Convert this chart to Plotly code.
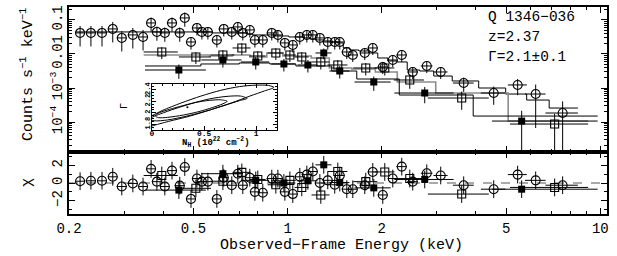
import numpy as np
import plotly.graph_objects as go

# ---------------- data: open circles (⊕) ----------------
circ_e = [0.217, 0.235, 0.255, 0.276, 0.295, 0.320, 0.345, 0.366, 0.382, 0.405,
          0.427, 0.452, 0.469, 0.491, 0.513, 0.532, 0.556, 0.594, 0.625, 0.663,
          0.693, 0.719, 0.757, 0.786, 0.833, 0.890, 0.931, 0.980, 1.039, 1.094,
          1.152, 1.204, 1.268, 1.344, 1.415, 1.468, 1.546, 1.616, 1.765, 1.872,
          2.015, 2.169, 2.317, 2.512, 2.786, 3.087, 3.656, 4.560, 5.439, 6.211, 7.574]
circ_cts = [0.0415, 0.0415, 0.0415, 0.0544, 0.0296, 0.0362, 0.0316, 0.0816, 0.0444, 0.0415,
            0.0816, 0.0415, 0.1145, 0.0225, 0.0582, 0.0444, 0.0444, 0.0258, 0.0544, 0.0444,
            0.0622, 0.0415, 0.0508, 0.0258, 0.0258, 0.0415, 0.0362, 0.0211, 0.0184, 0.0316,
            0.0362, 0.0362, 0.0296, 0.0225, 0.0225, 0.0225, 0.01145, 0.00935, 0.0107, 0.0150,
            0.00415, 0.00666, 0.00935, 0.00296, 0.00444, 0.00296, 0.00140, 0.000712, 0.00123, 0.000666, 0.000184]
circ_rel = [0.6, 0.6, 0.6, 0.6, 0.6, 0.6, 0.6, 0.45, 0.45, 0.45,
            0.45, 0.45, 0.45, 0.4, 0.4, 0.4, 0.4, 0.4, 0.4, 0.4,
            0.4, 0.4, 0.4, 0.4, 0.4, 0.4, 0.4, 0.4, 0.4, 0.4,
            0.4, 0.4, 0.4, 0.4, 0.4, 0.4, 0.38, 0.38, 0.38, 0.38,
            0.38, 0.38, 0.38, 0.38, 0.38, 0.38, 0.45, 0.55, 0.5, 0.9, 1.2]
circ_xerr = [0.008, 0.009, 0.009, 0.010, 0.011, 0.012, 0.013, 0.013, 0.014, 0.015,
             0.016, 0.017, 0.017, 0.018, 0.019, 0.020, 0.021, 0.022, 0.023, 0.025,
             0.026, 0.027, 0.028, 0.029, 0.031, 0.033, 0.035, 0.036, 0.038, 0.040,
             0.043, 0.045, 0.047, 0.050, 0.052, 0.054, 0.057, 0.060, 0.065, 0.070,
             0.075, 0.080, 0.090, 0.100, 0.120, 0.160, 0.280, 0.410, 0.380, 0.470, 0.900]
circ_model = [0.0444, 0.0444, 0.0444, 0.0444, 0.0444, 0.0444, 0.0444, 0.0444, 0.0444, 0.0444,
              0.0444, 0.0444, 0.0444, 0.0444, 0.0444, 0.0444, 0.0444, 0.0415, 0.0415, 0.0415,
              0.0415, 0.0415, 0.0388, 0.0362, 0.0362, 0.0362, 0.0338, 0.0338, 0.0316, 0.0316,
              0.0296, 0.0276, 0.0258, 0.0241, 0.0225, 0.0211, 0.0150, 0.0131, 0.01225, 0.0107,
              0.00763, 0.00622, 0.00582, 0.00338, 0.00316, 0.00225, 0.00161, 0.00100, 0.000666, 0.000443, 0.000258]
circ_chi = [0.2, 0.25, 0.25, 0.7, -0.4, -0.05, -0.4, 1.6, 0.15, -0.4,
            1.4, -0.3, 1.8, -1.8, 0.5, 0.15, 0.15, -1.8, 0.6, -0.25,
            1.05, -0.25, 0.6, -1.0, -1.1, 0.5, 0.5, -1.0, -1.25, 0.7,
            0.95, 1.3, 0.0, 0.3, -0.2, 0.85, -0.7, -0.7, -0.25, 1.25,
            -1.35, 0.5, 1.85, 0.15, 1.1, 0.85, -0.25, -0.7, 0.95, 0.3, -0.25]

# ---------------- data: open squares (⊞) ----------------
sq_e = [0.396, 0.509, 0.621, 0.714, 0.803, 0.917, 1.017, 1.110, 1.277, 1.447,
        1.778, 2.045, 2.458, 3.603, 7.141]
sq_cts = [0.01145, 0.00817, 0.00935, 0.0150, 0.00874, 0.0107, 0.00935, 0.00817, 0.00582, 0.00475,
          0.00388, 0.00388, 0.00172, 0.000508, 0.0000874]
sq_rel = [0.38, 0.38, 0.38, 0.38, 0.38, 0.38, 0.38, 0.38, 0.4, 0.4,
          0.4, 0.4, 0.45, 0.55, 1.0]
sq_xerr = [0.0495, 0.0599, 0.0548, 0.0473, 0.0473, 0.054, 0.0449, 0.0572, 0.0846, 0.106,
           0.157, 0.150, 0.271, 0.795, 2.0]
sq_model = [0.00935, 0.00935, 0.00874, 0.00935, 0.00817, 0.0107, 0.00874, 0.00874, 0.00763, 0.00388,
            0.00362, 0.00296, 0.0015, 0.000712, 0.000107]
sq_chi = [0.85, -0.6, 0.2, 1.2, 0.4, -0.2, 0.3, -0.5, -1.35, 1.3,
          0.15, 1.25, 0.5, -1.25, -0.5]

# ---------------- data: filled squares (■) ----------------
fs_e = [0.449, 0.621, 0.791, 0.973, 1.161, 1.305, 1.468, 1.886, 2.744, 5.602]
fs_cts = [0.00338, 0.00666, 0.00582, 0.00508, 0.00475, 0.0107, 0.00316, 0.0015, 0.000712, 0.000107]
fs_rel = [0.45, 0.4, 0.4, 0.4, 0.4, 0.35, 0.4, 0.45, 0.5, 1.0]
fs_xerr_lo = [0.099, 0.0914, 0.0815, 0.0859, 0.0854, 0.0768, 0.108, 0.25, 0.55, 1.1]
fs_xerr_hi = [0.099, 0.0914, 0.0815, 0.0859, 0.0854, 0.0768, 0.108, 0.25, 0.65, 4.2]
fs_model = [0.00444, 0.00508, 0.00544, 0.00508, 0.00444, 0.00444, 0.00316, 0.00184, 0.000622, 0.00015]
fs_chi = [-0.8, 1.05, 0.3, 0.0, 0.25, 2.05, 0.05, -0.55, 0.4, -0.7]

# ---------------- inset: confidence contours (NH, Gamma) ----------------
c1_nh = [0.721, 0.66, 0.55, 0.42, 0.29, 0.17, 0.07, 0.03, 0.06, 0.15, 0.30, 0.45, 0.58, 0.68, 0.721]
c1_g = [2.20, 2.225, 2.215, 2.18, 2.12, 2.06, 2.0, 1.95, 1.915, 1.92, 1.96, 2.02, 2.09, 2.155, 2.20]
c2_nh = [0.913, 0.85, 0.72, 0.55, 0.38, 0.22, 0.08, 0.01, -0.02, 0.02, 0.15, 0.33, 0.52, 0.70, 0.84, 0.913]
c2_g = [2.25, 2.29, 2.285, 2.24, 2.16, 2.07, 1.98, 1.93, 1.89, 1.86, 1.875, 1.94, 2.03, 2.13, 2.21, 2.25]
c3_nh = [1.17, 1.12, 1.0, 0.84, 0.66, 0.47, 0.28, 0.10, 0.0, -0.07, -0.07, 0.0, 0.16, 0.36, 0.56, 0.76, 0.94, 1.08, 1.17]
c3_g = [2.44, 2.475, 2.48, 2.455, 2.39, 2.29, 2.17, 2.04, 1.95, 1.89, 1.73, 1.77, 1.85, 1.94, 2.05, 2.17, 2.29, 2.38, 2.44]
best_nh = [0.34]
best_g = [2.095]

x_ticks = [0.2, 0.5, 1, 2, 5, 10]
x_ticktext = ['0.2', '0.5', '1', '2', '5', '10']
x_minor = [0.3, 0.4, 0.6, 0.7, 0.8, 0.9, 3, 4, 6, 7, 8, 9]
y_ticks = [1e-4, 1e-3, 1e-2, 1e-1]
y_ticktext = ['10<sup>−4</sup>', '10<sup>−3</sup>', '0.01', '0.1']

FONT = 'Liberation Mono'
BLK = 'black'

# pixel geometry of the plotting area
W, H = 617, 256
L, R, T, B = 69, 10, 7, 42
PW, PH = W - L - R, H - T - B


def px_x(p):
    return (p - L) / PW


def px_y(p):
    return (H - B - p) / PH


def steps(e, model, lo, hi):
    e = np.asarray(e, float)
    edges = [e[0] - lo[0]] + list(np.sqrt(e[:-1] * e[1:])) + [e[-1] + hi[-1]]
    xs, ys = [], []
    for i, m in enumerate(model):
        xs += [edges[i], edges[i + 1]]
        ys += [m, m]
    return xs, ys


def yerrs(v, rel):
    v = np.asarray(v, float)
    r = np.asarray(rel, float)
    return r * v, np.minimum(r, 0.97) * v


fig = go.Figure()

for e, m, lo, hi, col, w in [(circ_e, circ_model, circ_xerr, circ_xerr, BLK, 1),
                             (sq_e, sq_model, sq_xerr, sq_xerr, '#8c8c8c', 1.6),
                             (fs_e, fs_model, fs_xerr_lo, fs_xerr_hi, BLK, 1)]:
    xs, ys = steps(e, m, lo, hi)
    fig.add_trace(go.Scatter(x=xs, y=ys, mode='lines', line=dict(color=col, width=w),
                             xaxis='x', yaxis='y', hoverinfo='skip'))

series = [
    (circ_e, circ_cts, circ_rel, circ_xerr, circ_xerr, circ_chi,
     dict(symbol='circle-open', size=9, color=BLK, line=dict(width=1.1, color=BLK))),
    (sq_e, sq_cts, sq_rel, sq_xerr, sq_xerr, sq_chi,
     dict(symbol='square-open', size=8, color=BLK, line=dict(width=1.1, color=BLK))),
    (fs_e, fs_cts, fs_rel, fs_xerr_lo, fs_xerr_hi, fs_chi,
     dict(symbol='square', size=7, color=BLK, line=dict(width=0, color=BLK))),
]
for e, v, rel, xlo, xhi, chi, mk in series:
    up, dn = yerrs(v, rel)
    ex = dict(type='data', array=xhi, arrayminus=xlo, symmetric=False, color=BLK, thickness=1, width=0)
    fig.add_trace(go.Scatter(
        x=e, y=v, mode='markers', marker=mk, xaxis='x', yaxis='y', error_x=ex,
        error_y=dict(type='data', array=up, arrayminus=dn, symmetric=False, color=BLK, thickness=1, width=0)))
    fig.add_trace(go.Scatter(
        x=e, y=chi, mode='markers', marker=mk, xaxis='x2', yaxis='y2', error_x=ex,
        error_y=dict(type='data', array=[1.0] * len(chi), color=BLK, thickness=1, width=0)))

for nh, g in [(c1_nh, c1_g), (c2_nh, c2_g), (c3_nh, c3_g)]:
    fig.add_trace(go.Scatter(x=nh, y=g, mode='lines', line=dict(color=BLK, width=1, shape='spline', smoothing=0.8),
                             xaxis='x3', yaxis='y3', hoverinfo='skip'))
fig.add_trace(go.Scatter(x=best_nh, y=best_g, mode='markers', marker=dict(color=BLK, size=2),
                         xaxis='x3', yaxis='y3'))

axis_common = dict(showline=True, linewidth=1.5, linecolor=BLK, mirror='ticks', ticks='inside',
                   tickwidth=1, tickcolor=BLK, showgrid=False, zeroline=False, automargin=False)
inset_common = dict(showline=True, linewidth=1.2, linecolor=BLK, mirror='ticks', ticks='inside',
                    tickwidth=1, tickcolor=BLK, showgrid=False, zeroline=False, automargin=False)
DOM = 62 / PH

fig.update_layout(
    template='none',
    width=W, height=H, margin=dict(l=L, r=R, t=T, b=B, pad=0),
    paper_bgcolor='white', plot_bgcolor='white', showlegend=False,
    font=dict(family=FONT, size=14, color=BLK),
    xaxis=dict(type='log', range=[np.log10(0.2), np.log10(10.5)], domain=[0, 1], anchor='y',
               tickvals=x_ticks, showticklabels=False, ticklen=6,
               minor=dict(ticks='inside', ticklen=3, tickvals=x_minor, tickcolor=BLK), **axis_common),
    xaxis2=dict(type='log', range=[np.log10(0.2), np.log10(10.5)], domain=[0, 1], anchor='y2', matches='x',
                tickvals=x_ticks, ticktext=x_ticktext, ticklen=6, ticklabelstandoff=0,
                tickfont=dict(size=14),
                minor=dict(ticks='inside', ticklen=3, tickvals=x_minor, tickcolor=BLK),
                **axis_common),
    yaxis=dict(type='log', range=[-4.88, -0.62], domain=[DOM, 1], anchor='x',
               tickvals=y_ticks, ticktext=y_ticktext, tickangle=-90, ticklen=6,
               tickfont=dict(size=14), ticklabelstandoff=0,
               minor=dict(ticks='inside', ticklen=3, dtick='D1', tickcolor=BLK),
               **axis_common),
    yaxis2=dict(range=[-3.5, 3.5], domain=[0, DOM], anchor='x2',
                tickvals=[-2, 0, 2], ticktext=['−2', '0', '2'], tickangle=-90, ticklen=6,
                tickfont=dict(size=14), ticklabelstandoff=0,
                minor=dict(ticks='inside', ticklen=3, tickvals=[-3, -1, 1, 3], tickcolor=BLK),
                **axis_common),
    xaxis3=dict(range=[0, 1.2], domain=[px_x(152), px_x(277)], anchor='y3',
                tickvals=[0, 0.5, 1], ticktext=['0', '0.5', '1'], ticklen=4,
                tickfont=dict(size=8, weight='bold'), ticklabelstandoff=-5,
                minor=dict(ticks='inside', ticklen=2, dtick=0.1, tickcolor=BLK),
                **inset_common),
    yaxis3=dict(range=[1.7, 2.5], domain=[px_y(130), px_y(84)], anchor='x3',
                tickvals=[1.8, 2.0, 2.2, 2.4], ticktext=['1.8', '2', '2.2', '2.4'], ticklen=4,
                tickangle=-90, tickfont=dict(size=7, weight='bold'), ticklabelstandoff=-2,
                minor=dict(ticks='inside', ticklen=2, dtick=0.05, tickcolor=BLK),
                **inset_common),
    shapes=[dict(type='line', xref='x2 domain', yref='y2', x0=0, x1=1, y0=0, y1=0,
                 line=dict(color='#555555', width=1, dash='dash'), layer='below')],
)

titles = [
    ('Observed−Frame Energy (keV)', px_x(341), px_y(245), 0, 15, 'normal'),
    ('Counts s<sup>−1</sup> keV<sup>−1</sup>', px_x(27), px_y(75), -90, 15, 'normal'),
    ('χ', px_x(27), px_y(183), -90, 15, 'normal'),
    ('N<sub>H</sub> (10<sup>22</sup> cm<sup>−2</sup>)', px_x(216), px_y(142), 0, 9, 'bold'),
    ('Γ', px_x(124), px_y(106), -90, 10, 'normal'),
]
for t, xx, yy, ang, sz, wt in titles:
    fig.add_annotation(text=t, xref='paper', yref='paper', x=xx, y=yy, xanchor='center', yanchor='middle',
                       textangle=ang, showarrow=False, font=dict(family=FONT, size=sz, color=BLK, weight=wt))

labels = ['Q 1346−036', 'z=2.37', 'Γ=2.1±0.1']
label_py = [17, 37, 57]
for t, yy in zip(labels, label_py):
    fig.add_annotation(text=t, xref='paper', yref='paper', x=px_x(486), y=px_y(yy), xanchor='left', yanchor='middle',
                       showarrow=False, font=dict(family=FONT, size=14.5, color=BLK))

fig.write_html('out.html', config={'displayModeBar': False},
               post_script="document.body.style.margin='0';document.body.style.overflow='hidden';")
